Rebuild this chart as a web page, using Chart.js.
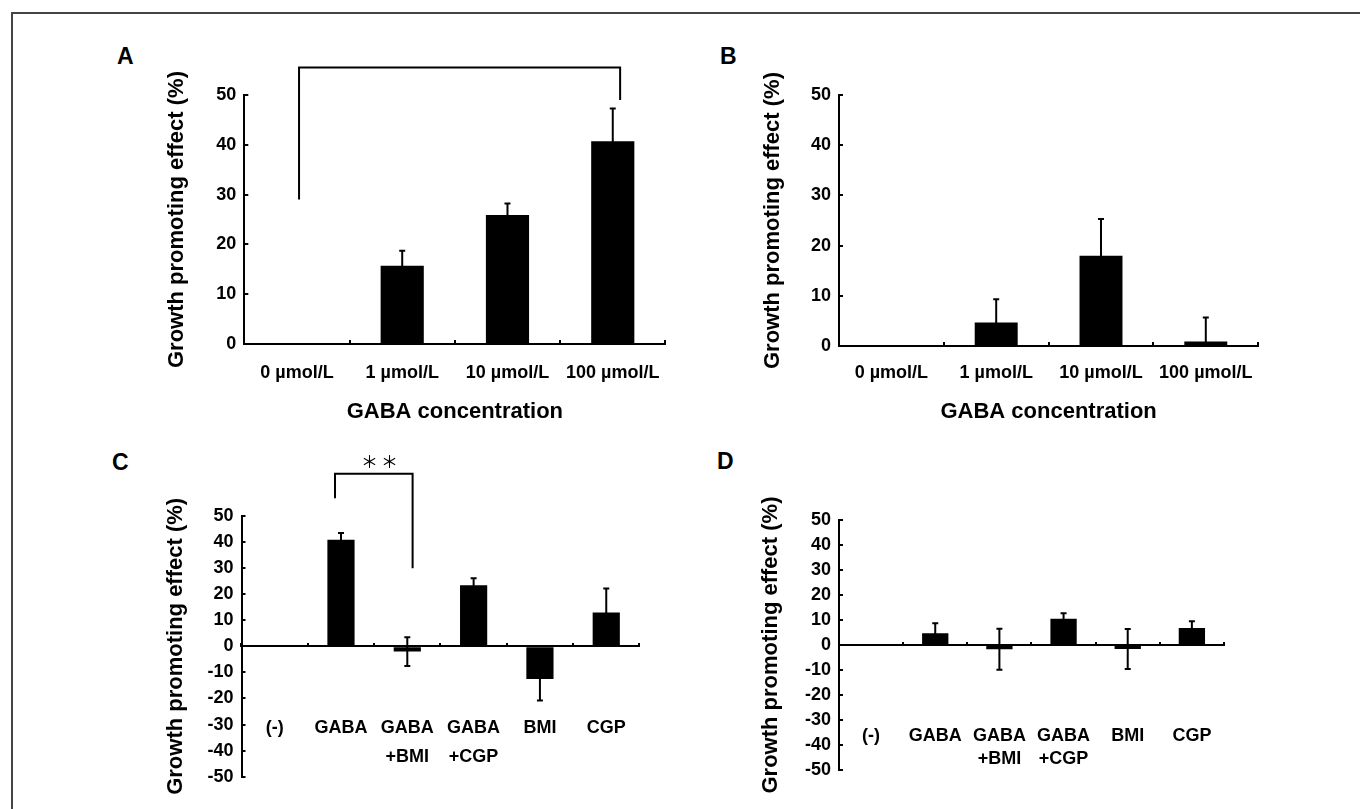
<!DOCTYPE html>
<html>
<head>
<meta charset="utf-8">
<title>GABA growth promoting effect</title>
<script src="https://cdn.jsdelivr.net/npm/chart.js@4.4.0/dist/chart.umd.min.js"></script>
<style>
  body { margin: 0; background: #fff; width: 1360px; height: 809px; overflow: hidden; position: relative; }
  #frame { position: absolute; left: 11px; top: 12px; width: 1400px; height: 900px;
           border-top: 2px solid #444; border-left: 2px solid #444; }
  canvas { position: absolute; }
  .tag { position: absolute; font: bold 23px 'Liberation Sans', Arial, sans-serif; line-height: 23px; color: #000; }
</style>
</head>
<body>
<div id="frame"></div>
<div class="tag" style="left:117px;top:45px">A</div>
<div class="tag" style="left:720px;top:45px">B</div>
<div class="tag" style="left:112px;top:451px">C</div>
<div class="tag" style="left:717px;top:450px">D</div>
<canvas id="chartA" width="600" height="420" style="left:100px;top:30px"></canvas>
<canvas id="chartB" width="600" height="420" style="left:700px;top:30px"></canvas>
<canvas id="chartC" width="600" height="360" style="left:100px;top:440px"></canvas>
<canvas id="chartD" width="600" height="360" style="left:700px;top:440px"></canvas>
<script>
// data
var concLabels = ['0 µmol/L', '1 µmol/L', '10 µmol/L', '100 µmol/L'];
var aValues = [0, 15.7, 25.9, 40.7];
var aErrors = [0, 3.0, 2.3, 6.6];
var bValues = [0, 4.7, 18.0, 0.9];
var bErrors = [0, 4.6, 7.3, 4.8];

var drugLabels = ['(-)', 'GABA', ['GABA', '+BMI'], ['GABA', '+CGP'], 'BMI', 'CGP'];
var cValues = [0, 40.9, -2.0, 23.4, -12.5, 13.0];
var cErrors = [0, 2.6, 5.5, 2.7, 8.3, 9.2];
var dValues = [0, 4.7, -1.7, 10.5, -1.6, 6.8];
var dErrors = [0, 4.0, 8.2, 2.2, 8.0, 2.7];

var abRange = [0, 50];
var cdRange = [-50, 50];
var tickStep = 10;

// significance brackets: [from index, to index, top value, left end value, right end value]
var aBracket = [0.02, 3.07, 55.5, 29, 49];
var cBracket = [0.91, 2.08, 66.2, 56.8, 30];
// stars: [glyph, index positions, value]
var cStars = ['＊', [1.43, 1.73], 71];

Chart.defaults.font.family = "'Liberation Sans', Arial, Helvetica, sans-serif";
Chart.defaults.font.weight = 'bold';
Chart.defaults.color = '#000';

var TITLE = 22, TITLE_LH = TITLE * 1.2, TICK = 18;

function errorBarPlugin(errors) {
  return {
    id: 'errorBars',
    afterDatasetsDraw: function (chart) {
      var ctx = chart.ctx, area = chart.chartArea, y = chart.scales.y;
      var vals = chart.data.datasets[0].data;
      var meta = chart.getDatasetMeta(0);
      ctx.save();
      ctx.beginPath();
      ctx.rect(area.left, area.top - 3, area.right - area.left, area.bottom - area.top + 3);
      ctx.clip();
      ctx.strokeStyle = '#000';
      ctx.lineWidth = 2;
      meta.data.forEach(function (bar, i) {
        var e = errors[i];
        if (!e) return;
        var hi = y.getPixelForValue(vals[i] + e);
        var lo = y.getPixelForValue(vals[i] - e);
        ctx.beginPath();
        ctx.moveTo(bar.x, hi); ctx.lineTo(bar.x, lo);
        ctx.moveTo(bar.x - 3, hi); ctx.lineTo(bar.x + 3, hi);
        ctx.moveTo(bar.x - 3, lo); ctx.lineTo(bar.x + 3, lo);
        ctx.stroke();
      });
      ctx.restore();
    }
  };
}

function bracketPlugin(bracket, stars) {
  return {
    id: 'bracket',
    afterDraw: function (chart) {
      if (!bracket) return;
      var ctx = chart.ctx, x = chart.scales.x, y = chart.scales.y;
      var x1 = x.getPixelForValue(bracket[0]), x2 = x.getPixelForValue(bracket[1]);
      var yt = y.getPixelForValue(bracket[2]);
      ctx.save();
      ctx.strokeStyle = '#000';
      ctx.lineWidth = 2;
      ctx.beginPath();
      ctx.moveTo(x1, y.getPixelForValue(bracket[3]));
      ctx.lineTo(x1, yt);
      ctx.lineTo(x2, yt);
      ctx.lineTo(x2, y.getPixelForValue(bracket[4]));
      ctx.stroke();
      if (stars) {
        ctx.font = "400 17px 'Noto Sans CJK JP'";
        ctx.textAlign = 'center';
        ctx.textBaseline = 'middle';
        ctx.fillStyle = '#000';
        stars[1].forEach(function (pos) {
          ctx.fillText(stars[0], x.getPixelForValue(pos), y.getPixelForValue(stars[2]));
        });
      }
      ctx.restore();
    }
  };
}

// lay: target chart area + title / label positions on the page
function drawPanel(id, box, labels, values, errors, range, lay, bracket, stars) {
  var centred = range[0] < 0;
  var half = TITLE_LH / 2;
  var tickLH = lay.labelLine || TICK * 1.2;
  var zeroY = centred ? (lay.top + lay.bottom) / 2 : lay.bottom;
  var bottomEdge = centred ? lay.bottom : lay.titleY + half;
  var tickGrid = { display: true, drawOnChartArea: false, drawTicks: true, tickLength: -4, color: '#000', lineWidth: 2 };

  new Chart(document.getElementById(id), {
    type: 'bar',
    data: {
      labels: labels,
      datasets: [{
        data: values,
        backgroundColor: '#000',
        borderWidth: 0,
        barPercentage: 0.41,
        categoryPercentage: 1
      }]
    },
    options: {
      responsive: false,
      animation: false,
      layout: {
        padding: {
          left: lay.titleX - half - box.x,
          top: lay.top - box.y,
          right: box.x + box.w - lay.right,
          bottom: box.y + box.h - bottomEdge
        }
      },
      plugins: { legend: { display: false }, tooltip: { enabled: false } },
      scales: {
        x: {
          position: centred ? { y: 0 } : 'bottom',
          grid: Object.assign({ offset: true }, tickGrid),
          border: { display: true, color: '#000', width: 2 },
          ticks: {
            autoSkip: false, maxRotation: 0, minRotation: 0,
            padding: lay.labelY - zeroY + 4 - tickLH / 2,
            font: { size: TICK, lineHeight: tickLH / TICK }
          },
          title: { display: !centred, text: 'GABA concentration', font: { size: TITLE }, padding: 0 },
          afterFit: function (s) { if (!centred) s.height = bottomEdge - lay.bottom; }
        },
        y: {
          min: range[0], max: range[1],
          grid: tickGrid,
          border: { display: true, color: '#000', width: 2 },
          ticks: { stepSize: tickStep, padding: 12, font: { size: TICK } },
          title: { display: true, text: 'Growth promoting effect (%)', font: { size: TITLE }, padding: 0 },
          afterFit: function (s) { s.width = lay.left - (lay.titleX - half); }
        }
      }
    },
    plugins: [errorBarPlugin(errors), bracketPlugin(bracket, stars)]
  });
}

drawPanel('chartA', { x: 100, y: 30, w: 600, h: 420 }, concLabels, aValues, aErrors, abRange,
  { left: 244.3, right: 665.4, top: 95, bottom: 344, titleX: 177, titleY: 412, labelY: 373 }, aBracket, null);
drawPanel('chartB', { x: 700, y: 30, w: 600, h: 420 }, concLabels, bValues, bErrors, abRange,
  { left: 839, right: 1258.2, top: 95, bottom: 346, titleX: 773, titleY: 412, labelY: 373 }, null, null);
drawPanel('chartC', { x: 100, y: 440, w: 600, h: 360 }, drugLabels, cValues, cErrors, cdRange,
  { left: 241.5, right: 662.9, top: 516, bottom: 776.7, titleX: 176, labelY: 728, labelLine: 29 }, cBracket, cStars);
drawPanel('chartD', { x: 700, y: 440, w: 600, h: 360 }, drugLabels, dValues, dErrors, cdRange,
  { left: 839, right: 1238.6, top: 520, bottom: 770, titleX: 771, labelY: 736, labelLine: 23 }, null, null);
</script>
</body>
</html>
